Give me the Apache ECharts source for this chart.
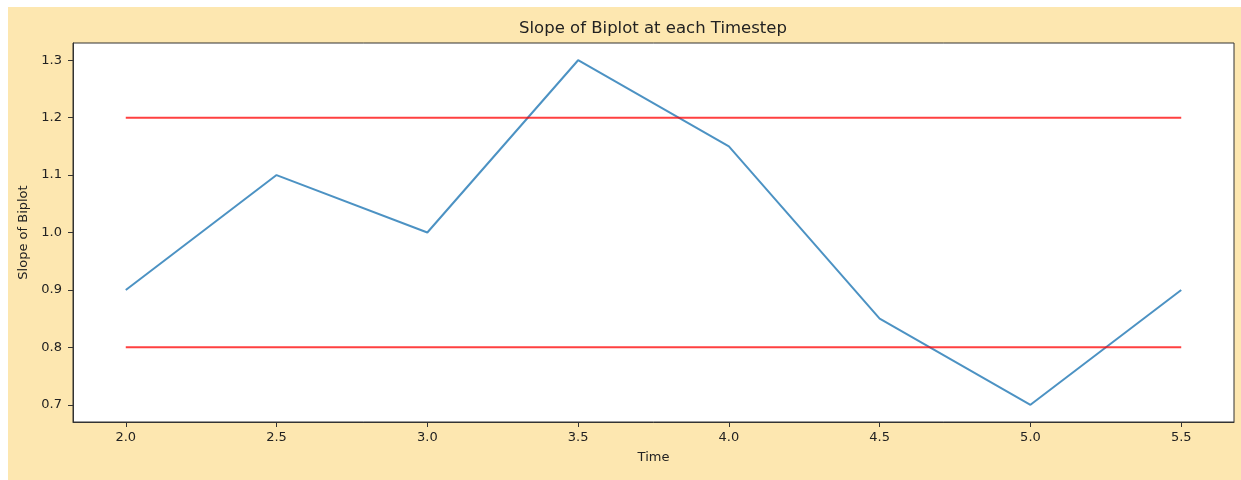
<!DOCTYPE html>
<html>
<head>
<meta charset="utf-8">
<script src="https://cdn.jsdelivr.net/npm/echarts@6/dist/echarts.min.js"></script>
<style>
html,body{margin:0;padding:0;background:#fff;}
#c{width:1241px;height:480px;}
</style>
</head>
<body>
<div id="c"></div>
<script>
const times = [2.0, 2.5, 3.0, 3.5, 4.0, 4.5, 5.0, 5.5];
const slopes = [0.9, 1.1, 1.0, 1.3, 1.15, 0.85, 0.7, 0.9];
const upperBound = 1.2;
const lowerBound = 0.8;
const xTicks = [2.0, 2.5, 3.0, 3.5, 4.0, 4.5, 5.0, 5.5];
const yTicks = [0.7, 0.8, 0.9, 1.0, 1.1, 1.2, 1.3];
const titleText = 'Slope of Biplot at each Timestep';
const xName = 'Time';
const yName = 'Slope of Biplot';

const font = 'DejaVu Sans';
const chart = echarts.init(document.getElementById('c'), null, {renderer: 'canvas'});
const xMin = times[0], xMax = times[times.length - 1];
chart.setOption({
  animation: false,
  backgroundColor: '#ffffff',
  graphic: [
    {type: 'rect', z: -10, shape: {x: 8, y: 7, width: 1233, height: 473}, style: {fill: '#fde7b0'}},
    {type: 'text', x: 653, y: 29, style: {text: titleText, font: '16.5px "DejaVu Sans"', fill: '#222', align: 'center', verticalAlign: 'middle'}}
  ],
  grid: {left: 73, right: 7, top: 43, bottom: 58, show: true, backgroundColor: '#ffffff', borderColor: '#333', borderWidth: 1},
  xAxis: {
    type: 'value', min: 1.825, max: 5.675,
    name: xName, nameLocation: 'middle', nameGap: 29,
    nameTextStyle: {fontFamily: font, fontSize: 13, color: '#222'},
    axisLine: {show: true, lineStyle: {color: '#333'}},
    axisTick: {show: true, length: 5, customValues: xTicks, lineStyle: {color: '#333'}},
    axisLabel: {customValues: xTicks, fontFamily: font, fontSize: 13, color: '#222', margin: 9, formatter: v => v.toFixed(1)},
    splitLine: {show: false}
  },
  yAxis: {
    type: 'value', min: 0.67, max: 1.33,
    name: yName, nameLocation: 'middle', nameGap: 35, nameRotate: 90,
    nameTextStyle: {fontFamily: font, fontSize: 13, color: '#222'},
    axisLine: {show: true, lineStyle: {color: '#333'}},
    axisTick: {show: true, length: 5, customValues: yTicks, lineStyle: {color: '#333'}},
    axisLabel: {customValues: yTicks, fontFamily: font, fontSize: 13, color: '#222', margin: 11, formatter: v => v.toFixed(1)},
    splitLine: {show: false}
  },
  series: [
    {type: 'line', data: times.map((t, i) => [t, slopes[i]]), showSymbol: false, lineStyle: {color: '#1f77b4', width: 2, opacity: 0.8}},
    {type: 'line', data: [[xMin, upperBound], [xMax, upperBound]], showSymbol: false, lineStyle: {color: '#ff0000', width: 2, opacity: 0.75}},
    {type: 'line', data: [[xMin, lowerBound], [xMax, lowerBound]], showSymbol: false, lineStyle: {color: '#ff0000', width: 2, opacity: 0.75}}
  ]
});
</script>
</body>
</html>
